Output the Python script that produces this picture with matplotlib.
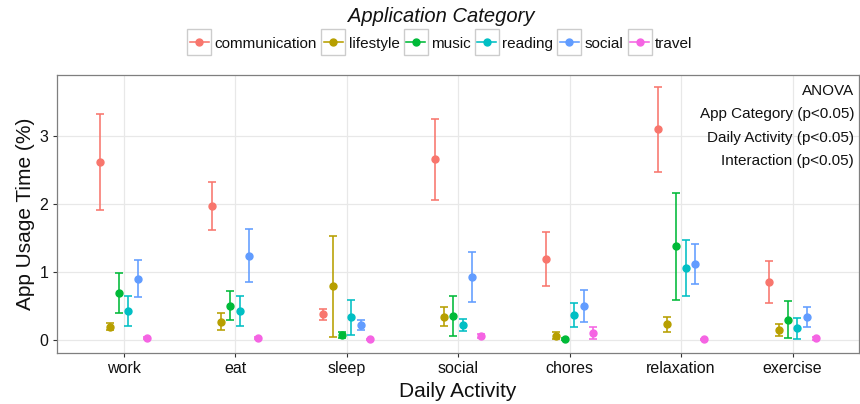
import matplotlib
matplotlib.use("Agg")
import matplotlib.pyplot as plt
from matplotlib.patches import Rectangle
from matplotlib.lines import Line2D
import numpy as np

plt.rcParams['font.family'] = ['Liberation Sans', 'DejaVu Sans']

activities = ['work', 'eat', 'sleep', 'social', 'chores', 'relaxation', 'exercise']
categories = ['communication', 'lifestyle', 'music', 'reading', 'social', 'travel']
colors = ['#F8766D', '#B79F00', '#00BA38', '#00BFC4', '#619CFF', '#F564E3']

# mean usage per activity, one list per app category
communication_mean = [2.615, 1.975, 0.377, 2.655, 1.187, 3.10, 0.853]
lifestyle_mean = [0.196, 0.27, 0.79, 0.34, 0.065, 0.23, 0.15]
music_mean = [0.69, 0.505, 0.074, 0.35, 0.015, 1.375, 0.30]
reading_mean = [0.43, 0.43, 0.335, 0.215, 0.363, 1.064, 0.17]
social_mean = [0.90, 1.24, 0.225, 0.93, 0.50, 1.118, 0.343]
travel_mean = [0.03, 0.03, 0.01, 0.054, 0.10, 0.01, 0.025]

# half-width of the error bars
communication_err = [0.705, 0.355, 0.083, 0.595, 0.40, 0.625, 0.304]
lifestyle_err = [0.049, 0.13, 0.74, 0.14, 0.055, 0.11, 0.09]
music_err = [0.29, 0.21, 0.044, 0.29, 0.012, 0.79, 0.27]
reading_err = [0.22, 0.22, 0.26, 0.087, 0.177, 0.41, 0.15]
social_err = [0.275, 0.39, 0.074, 0.37, 0.235, 0.30, 0.147]
travel_err = [0.02, 0.015, 0.01, 0.027, 0.09, 0.01, 0.02]

means = [communication_mean, lifestyle_mean, music_mean, reading_mean, social_mean, travel_mean]
errs = [communication_err, lifestyle_err, music_err, reading_err, social_err, travel_err]

W, H = 860, 404
fig = plt.figure(figsize=(W / 100, H / 100), dpi=100)


def fx(px):
    return px / W


def fy(py):
    return 1 - py / H


p_left, p_right, p_top, p_bot = 56.7, 859.5, 74.7, 352.7
ax = fig.add_axes([fx(p_left), fy(p_bot), (p_right - p_left) / W, (p_bot - p_top) / H])

x = np.arange(len(activities))
dodge = 0.5 / len(categories)
for j, (m, e, c) in enumerate(zip(means, errs, colors)):
    xs = x + (j - (len(categories) - 1) / 2) * dodge
    ax.errorbar(xs, m, yerr=e, fmt='none', ecolor=c, elinewidth=1.15,
                capsize=3.2, capthick=1.15, zorder=3)
    ax.plot(xs, m, 'o', color=c, markersize=5.0, zorder=4)

ax.set_xlim(-0.6, len(activities) - 0.4)
ax.set_ylim(-0.187, 3.901)
ax.set_xticks(x)
ax.set_xticklabels(activities)
ax.set_yticks([0, 1, 2, 3])
ax.tick_params(axis='both', length=3, width=0.8, color='#333333',
               labelsize=11.5, labelcolor='#111111', pad=3)
ax.grid(True, color='#e8e8e8', linewidth=0.9, zorder=0)
ax.set_axisbelow(True)
for s in ax.spines.values():
    s.set_color('#7f7f7f')
    s.set_linewidth(0.9)

fig.text(fx(26), fy(213.7), 'App Usage Time (%)', rotation=90,
         ha='center', va='center', fontsize=15, color='#111111')
fig.text(fx(458), fy(397.3), 'Daily Activity', ha='center', va='baseline',
         fontsize=15, color='#111111')

# ANOVA summary, right-aligned in the panel corner
notes = ['ANOVA', 'App Category (p<0.05)', 'Daily Activity (p<0.05)', 'Interaction (p<0.05)']
for k, t in enumerate(notes):
    fig.text(fx(854), fy(95 + 23.5 * k), t, ha='right', va='baseline',
             fontsize=11, color='#111111')

# legend across the top
fig.text(fx(440.8), fy(21.5), 'Application Category', ha='center', va='baseline',
         fontsize=14.5, style='italic', color='#111111')
renderer = fig.canvas.get_renderer()
cur = 187.3
key_w, key_top, key_bot, row_y = 24, 29, 55, 42
for cat, c in zip(categories, colors):
    fig.add_artist(Rectangle((fx(cur), fy(key_bot)), key_w / W, (key_bot - key_top) / H,
                             transform=fig.transFigure, facecolor='white',
                             edgecolor='#cccccc', linewidth=1.0))
    fig.add_artist(Line2D([fx(cur + 2.5), fx(cur + key_w - 2.5)], [fy(row_y), fy(row_y)],
                          transform=fig.transFigure, color=c, linewidth=1.15))
    fig.add_artist(Line2D([fx(cur + key_w / 2)], [fy(row_y)], transform=fig.transFigure,
                          marker='o', color=c, markersize=5.0, linestyle='none'))
    t = fig.text(fx(cur + key_w + 3.5), fy(47.7), cat, ha='left', va='baseline',
                 fontsize=11, color='#111111')
    bb = t.get_window_extent(renderer)
    cur = bb.x1 + 4

fig.savefig('out.png', dpi=100)
